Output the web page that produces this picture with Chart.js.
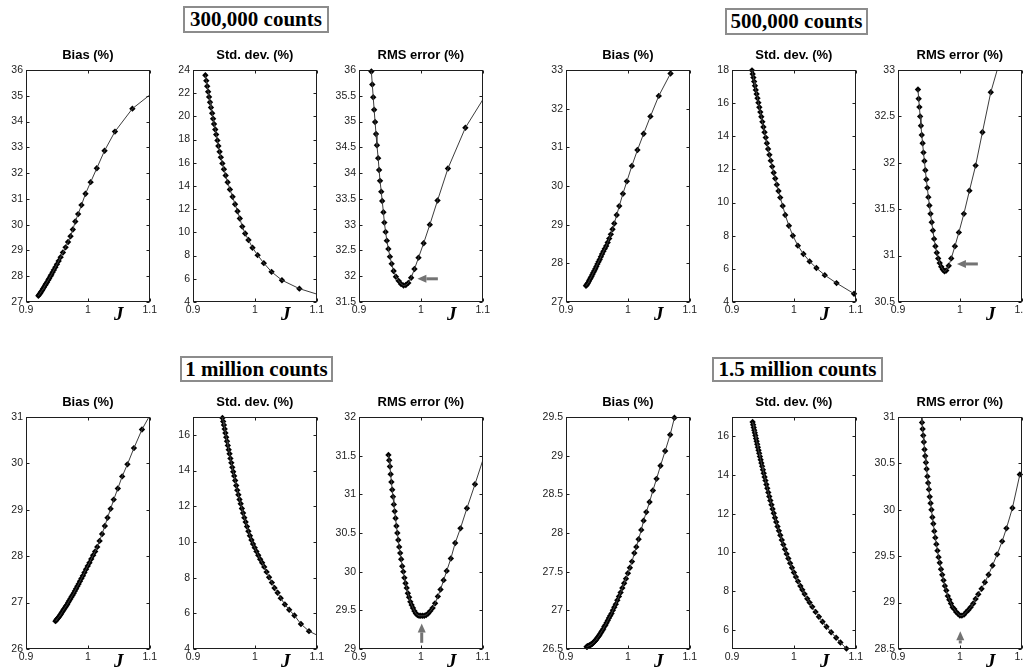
<!DOCTYPE html>
<html><head><meta charset="utf-8">
<script src="https://cdn.jsdelivr.net/npm/chart.js@4.4.1/dist/chart.umd.min.js"></script>
<style>
html,body{margin:0;padding:0;background:#fff;}
body{width:1024px;height:671px;position:relative;overflow:hidden;}
canvas{position:absolute;}
.box{position:absolute;border:2px solid #8c8c8c;background:#fff;font:bold 21px "Liberation Serif","Times New Roman",serif;color:#000;text-align:center;box-sizing:border-box;white-space:nowrap;}
</style></head><body>
<div class="box" style="left:183px;top:6px;width:146px;height:27px;line-height:23px;">300,000 counts</div>
<div class="box" style="left:725px;top:8px;width:143px;height:27px;line-height:23px;">500,000 counts</div>
<div class="box" style="left:180px;top:356px;width:153px;height:26px;line-height:22px;">1 million counts</div>
<div class="box" style="left:712px;top:357px;width:171px;height:25px;line-height:21px;">1.5 million counts</div>
<script>
// ---------- data ----------
const jTicks = [0.9, 1, 1.1];

// 300,000 counts
const x300k = [0.920, 0.9215, 0.923, 0.9245, 0.926, 0.9275, 0.929, 0.931, 0.9325, 0.934,
  0.936, 0.9375, 0.9395, 0.941, 0.943, 0.945, 0.9475, 0.950, 0.9528, 0.956,
  0.9597, 0.964, 0.968, 0.972, 0.9757, 0.9797, 0.9843, 0.9897, 0.9962, 1.0045,
  1.0145, 1.027, 1.0438, 1.072, 1.117];
const bias300k = [27.24, 27.29, 27.34, 27.40, 27.45, 27.51, 27.57, 27.65, 27.71, 27.77,
  27.85, 27.91, 28.00, 28.06, 28.15, 28.24, 28.35, 28.46, 28.59, 28.74,
  28.92, 29.12, 29.33, 29.55, 29.81, 30.12, 30.41, 30.76, 31.20, 31.65,
  32.19, 32.87, 33.61, 34.50, 35.35];
const std300k = [23.55, 23.08, 22.6, 22.13, 21.68, 21.22, 20.77, 20.27, 19.8, 19.35,
  18.87, 18.43, 17.93, 17.45, 16.95, 16.47, 15.95, 15.45, 14.9, 14.32,
  13.7, 13.07, 12.43, 11.82, 11.2, 10.5, 9.9, 9.35, 8.68, 8.04,
  7.35, 6.6, 5.88, 5.15, 4.4];
const rms300k = [35.97, 35.72, 35.47, 35.23, 34.99, 34.76, 34.54, 34.29, 34.06, 33.85,
  33.64, 33.46, 33.24, 33.04, 32.86, 32.69, 32.53, 32.38, 32.24, 32.10,
  31.99, 31.91, 31.85, 31.82, 31.83, 31.87, 31.97, 32.14, 32.36, 32.64,
  33.00, 33.47, 34.09, 34.88, 35.75];

// 500,000 counts
const x500k = [0.9323, 0.9334, 0.9346, 0.9358, 0.9371, 0.9384, 0.9398, 0.9412, 0.9427, 0.9442,
  0.9458, 0.9474, 0.9491, 0.9508, 0.9526, 0.9545, 0.9564, 0.9584, 0.9605, 0.9627,
  0.965, 0.9674, 0.9699, 0.9725, 0.9752, 0.978, 0.982, 0.9861, 0.992, 0.9984,
  1.0065, 1.0155, 1.0255, 1.0365, 1.050, 1.069, 1.0973];
const bias500k = [27.42, 27.44, 27.47, 27.50, 27.54, 27.58, 27.62, 27.66, 27.71, 27.76,
  27.81, 27.86, 27.92, 27.98, 28.04, 28.10, 28.17, 28.24, 28.31, 28.38,
  28.45, 28.54, 28.64, 28.75, 28.88, 29.03, 29.25, 29.48, 29.80, 30.12,
  30.52, 30.93, 31.35, 31.80, 32.33, 32.91, 33.80];
const std500k = [17.98, 17.76, 17.54, 17.3, 17.05, 16.8, 16.55, 16.3, 16.03, 15.75,
  15.46, 15.18, 14.87, 14.56, 14.24, 13.92, 13.58, 13.23, 12.88, 12.53,
  12.17, 11.8, 11.45, 11.08, 10.7, 10.3, 9.8, 9.25, 8.6, 8.0,
  7.4, 6.9, 6.45, 6.05, 5.62, 5.14, 4.5];
const rms500k = [32.79, 32.69, 32.60, 32.50, 32.40, 32.30, 32.21, 32.11, 32.02, 31.92,
  31.82, 31.73, 31.63, 31.54, 31.45, 31.36, 31.27, 31.18, 31.10, 31.03,
  30.97, 30.92, 30.88, 30.85, 30.83, 30.84, 30.89, 30.97, 31.10, 31.25,
  31.45, 31.70, 31.97, 32.33, 32.76, 33.20, 34.10];

// 1 million counts
const x1M = [0.9476, 0.9488, 0.95, 0.9512, 0.9524, 0.9537, 0.955, 0.9563, 0.9577, 0.9591,
  0.9605, 0.962, 0.9635, 0.965, 0.9666, 0.9682, 0.9699, 0.9716, 0.9734, 0.9752,
  0.9771, 0.979, 0.981, 0.983, 0.9851, 0.9873, 0.9896, 0.992, 0.9945, 0.9971,
  0.9998, 1.0026, 1.0055, 1.0086, 1.0118, 1.0152, 1.019, 1.023, 1.0275, 1.0318,
  1.0368, 1.0418, 1.0485, 1.0555, 1.064, 1.0745, 1.0875, 1.105];
const bias1M = [26.60, 26.62, 26.64, 26.66, 26.68, 26.70, 26.73, 26.75, 26.78, 26.81,
  26.84, 26.87, 26.90, 26.93, 26.96, 27.00, 27.04, 27.08, 27.12, 27.16,
  27.20, 27.25, 27.30, 27.35, 27.40, 27.46, 27.52, 27.58, 27.65, 27.72,
  27.79, 27.86, 27.94, 28.02, 28.10, 28.20, 28.33, 28.48, 28.65, 28.83,
  29.02, 29.22, 29.46, 29.72, 29.98, 30.33, 30.73, 31.15];
const std1M = [16.95, 16.75, 16.55, 16.33, 16.1, 15.87, 15.64, 15.41, 15.17, 14.94,
  14.68, 14.43, 14.18, 13.93, 13.7, 13.44, 13.16, 12.9, 12.64, 12.38,
  12.14, 11.87, 11.62, 11.36, 11.12, 10.86, 10.6, 10.35, 10.11, 9.88,
  9.68, 9.47, 9.25, 9.03, 8.83, 8.6, 8.32, 8.02, 7.72, 7.42,
  7.15, 6.85, 6.5, 6.2, 5.88, 5.4, 5.0, 4.7];
const rms1M = [31.51, 31.44, 31.36, 31.26, 31.16, 31.06, 30.97, 30.87, 30.78, 30.69,
  30.59, 30.50, 30.41, 30.32, 30.24, 30.16, 30.07, 30.00, 29.92, 29.85,
  29.79, 29.72, 29.67, 29.61, 29.57, 29.53, 29.49, 29.46, 29.44, 29.43,
  29.43, 29.43, 29.43, 29.44, 29.46, 29.49, 29.53, 29.59, 29.68, 29.77,
  29.89, 30.01, 30.17, 30.37, 30.56, 30.82, 31.13, 31.56];

// 1.5 million counts
const x15M = [0.9333, 0.9342, 0.9351, 0.936, 0.9369, 0.9378, 0.9388, 0.9398, 0.9408, 0.9418,
  0.9429, 0.944, 0.9451, 0.9463, 0.9475, 0.9487, 0.95, 0.9513, 0.9527, 0.9541,
  0.9556, 0.9571, 0.9587, 0.9603, 0.962, 0.9638, 0.9656, 0.9675, 0.9695, 0.9715,
  0.9736, 0.9758, 0.9781, 0.9805, 0.983, 0.9856, 0.9883, 0.9911, 0.994, 0.997,
  1.0001, 1.0033, 1.0067, 1.0105, 1.0137, 1.0174, 1.0217, 1.0255, 1.0298, 1.0351,
  1.0405, 1.0464, 1.0528, 1.0603, 1.0684, 1.0753, 1.085, 1.097];
const bias15M = [26.53, 26.53, 26.535, 26.54, 26.54, 26.545, 26.55, 26.555, 26.56, 26.565,
  26.57, 26.58, 26.59, 26.60, 26.61, 26.62, 26.635, 26.65, 26.665, 26.68,
  26.70, 26.72, 26.74, 26.76, 26.79, 26.81, 26.84, 26.87, 26.90, 26.93,
  26.96, 27.00, 27.04, 27.08, 27.13, 27.18, 27.23, 27.29, 27.35, 27.41,
  27.48, 27.55, 27.63, 27.74, 27.82, 27.92, 28.04, 28.16, 28.27, 28.40,
  28.55, 28.70, 28.87, 29.06, 29.27, 29.49, 29.80, 30.15];
const std15M = [16.74, 16.6, 16.46, 16.32, 16.18, 16.04, 15.89, 15.74, 15.59, 15.44,
  15.28, 15.12, 14.96, 14.79, 14.62, 14.45, 14.27, 14.09, 13.9, 13.71,
  13.51, 13.31, 13.1, 12.89, 12.68, 12.46, 12.24, 12.02, 11.79, 11.57,
  11.34, 11.11, 10.88, 10.64, 10.4, 10.16, 9.92, 9.68, 9.44, 9.2,
  8.96, 8.73, 8.5, 8.26, 8.06, 7.84, 7.6, 7.4, 7.18, 6.92,
  6.67, 6.41, 6.15, 5.87, 5.58, 5.34, 5.02, 4.62];
const rms15M = [31.37, 31.30, 31.22, 31.16, 31.08, 31.01, 30.94, 30.87, 30.80, 30.73,
  30.65, 30.58, 30.51, 30.44, 30.36, 30.29, 30.22, 30.14, 30.07, 30.00,
  29.92, 29.85, 29.77, 29.70, 29.63, 29.56, 29.49, 29.43, 29.36, 29.30,
  29.24, 29.18, 29.13, 29.07, 29.03, 28.99, 28.95, 28.93, 28.90, 28.88,
  28.86, 28.86, 28.87, 28.90, 28.92, 28.95, 28.99, 29.04, 29.09, 29.15,
  29.22, 29.30, 29.40, 29.52, 29.66, 29.80, 30.02, 30.38];

// y-axis ranges and tick labels
const biasRange300k = [27, 36], biasTicks300k = [27, 28, 29, 30, 31, 32, 33, 34, 35, 36];
const stdRange300k = [4, 24], stdTicks300k = [4, 6, 8, 10, 12, 14, 16, 18, 20, 22, 24];
const rmsRange300k = [31.5, 36], rmsTicks300k = [31.5, 32, 32.5, 33, 33.5, 34, 34.5, 35, 35.5, 36];
const biasRange500k = [27, 33], biasTicks500k = [27, 28, 29, 30, 31, 32, 33];
const stdRange500k = [4, 18], stdTicks500k = [4, 6, 8, 10, 12, 14, 16, 18];
const rmsRange500k = [30.5, 33], rmsTicks500k = [30.5, 31, 31.5, 32, 32.5, 33];
const biasRange1M = [26, 31], biasTicks1M = [26, 27, 28, 29, 30, 31];
const stdRange1M = [4, 17], stdTicks1M = [4, 6, 8, 10, 12, 14, 16];
const rmsRange1M = [29, 32], rmsTicks1M = [29, 29.5, 30, 30.5, 31, 31.5, 32];
const biasRange15M = [26.5, 29.5], biasTicks15M = [26.5, 27, 27.5, 28, 28.5, 29, 29.5];
const stdRange15M = [5, 17], stdTicks15M = [6, 8, 10, 12, 14, 16];
const rmsRange15M = [28.5, 31], rmsTicks15M = [28.5, 29, 29.5, 30, 30.5, 31];

// minimum markers (arrow tail -> tip, in data units)
const arrow300k = [[1.0275, 31.95], [0.9944, 31.95]];
const arrow500k = [[1.0291, 30.91], [0.9953, 30.91]];
const arrow1M = [[1.0014, 29.08], [1.0014, 29.33]];
const arrow15M = [[1.0007, 28.56], [1.0007, 28.69]];

// ---------- drawing ----------
const FONT = '"Liberation Sans", Arial, sans-serif';
const fmt = v => String(+(+v).toFixed(2));

const matlabPlugin = {
  id: 'matlab',
  afterDatasetsDraw(chart, args, opts) {
    const {ctx, chartArea: a} = chart;
    const xs = chart.scales.x, ys = chart.scales.y;
    ctx.save();
    const L = Math.round(a.left) + 0.5, R = Math.round(a.right) - 0.5;
    const T = Math.round(a.top) + 0.5, B = Math.round(a.bottom) - 0.5;
    ctx.strokeStyle = '#1e1e1e';
    ctx.lineWidth = 1;
    ctx.strokeRect(L, T, R - L, B - T);
    ctx.beginPath();
    const tl = 3;
    xs.ticks.forEach(t => {
      const px = Math.round(xs.getPixelForValue(t.value)) + 0.5;
      ctx.moveTo(px, B); ctx.lineTo(px, B - tl);
      ctx.moveTo(px, T); ctx.lineTo(px, T + tl);
    });
    ys.ticks.forEach(t => {
      const py = Math.round(ys.getPixelForValue(t.value)) + 0.5;
      ctx.moveTo(L, py); ctx.lineTo(L + tl, py);
      ctx.moveTo(R, py); ctx.lineTo(R - tl, py);
    });
    ctx.stroke();
    // axis symbol J
    ctx.font = 'italic bold 19px "Liberation Serif", "Times New Roman", serif';
    ctx.fillStyle = '#000';
    ctx.textAlign = 'center';
    ctx.textBaseline = 'alphabetic';
    ctx.fillText('J', xs.getPixelForValue(1.05), a.bottom + 18);
    // arrow
    if (opts && opts.arrow) {
      const [from, to] = opts.arrow;
      const x1 = xs.getPixelForValue(from[0]), y1 = ys.getPixelForValue(from[1]);
      const x2 = xs.getPixelForValue(to[0]), y2 = ys.getPixelForValue(to[1]);
      const ang = Math.atan2(y2 - y1, x2 - x1);
      const hl = 9, hw = 4;
      const bx = x2 - hl * Math.cos(ang), by = y2 - hl * Math.sin(ang);
      ctx.strokeStyle = '#737373';
      ctx.fillStyle = '#737373';
      ctx.lineWidth = 3;
      ctx.beginPath(); ctx.moveTo(x1, y1); ctx.lineTo(bx, by); ctx.stroke();
      ctx.beginPath();
      ctx.moveTo(x2, y2);
      ctx.lineTo(bx + hw * Math.sin(ang), by - hw * Math.cos(ang));
      ctx.lineTo(bx - hw * Math.sin(ang), by + hw * Math.cos(ang));
      ctx.closePath(); ctx.fill();
    }
    ctx.restore();
  }
};

const FW = 125, FH = 232, YW = 34, TOPH = 30, XH = 26, PADR = 8;
const panels = [
  {fx: 26,  fy: 70,  title: 'Bias (%)',      xv: x300k, yv: bias300k, range: biasRange300k, ticks: biasTicks300k},
  {fx: 193, fy: 70,  title: 'Std. dev. (%)', xv: x300k, yv: std300k,  range: stdRange300k,  ticks: stdTicks300k},
  {fx: 359, fy: 70,  title: 'RMS error (%)', xv: x300k, yv: rms300k,  range: rmsRange300k,  ticks: rmsTicks300k, arrow: arrow300k},
  {fx: 566, fy: 70,  title: 'Bias (%)',      xv: x500k, yv: bias500k, range: biasRange500k, ticks: biasTicks500k},
  {fx: 732, fy: 70,  title: 'Std. dev. (%)', xv: x500k, yv: std500k,  range: stdRange500k,  ticks: stdTicks500k},
  {fx: 898, fy: 70,  title: 'RMS error (%)', xv: x500k, yv: rms500k,  range: rmsRange500k,  ticks: rmsTicks500k, arrow: arrow500k},
  {fx: 26,  fy: 417, title: 'Bias (%)',      xv: x1M,   yv: bias1M,   range: biasRange1M,   ticks: biasTicks1M},
  {fx: 193, fy: 417, title: 'Std. dev. (%)', xv: x1M,   yv: std1M,    range: stdRange1M,    ticks: stdTicks1M},
  {fx: 359, fy: 417, title: 'RMS error (%)', xv: x1M,   yv: rms1M,    range: rmsRange1M,    ticks: rmsTicks1M, arrow: arrow1M},
  {fx: 566, fy: 417, title: 'Bias (%)',      xv: x15M,  yv: bias15M,  range: biasRange15M,  ticks: biasTicks15M},
  {fx: 732, fy: 417, title: 'Std. dev. (%)', xv: x15M,  yv: std15M,   range: stdRange15M,   ticks: stdTicks15M},
  {fx: 898, fy: 417, title: 'RMS error (%)', xv: x15M,  yv: rms15M,   range: rmsRange15M,   ticks: rmsTicks15M, arrow: arrow15M}
];

panels.forEach(p => {
  const cv = document.createElement('canvas');
  cv.width = YW + FW + PADR;
  cv.height = TOPH + FH + XH;
  cv.style.left = (p.fx - YW) + 'px';
  cv.style.top = (p.fy - TOPH) + 'px';
  document.body.appendChild(cv);
  const pts = p.xv.map((x, i) => ({x: x, y: p.yv[i]}));
  const [ymin, ymax] = p.range;
  const inside = c => {
    const r = c.raw;
    if (!r) return 0;
    return (r.x >= 0.9 - 1e-9 && r.x <= 1.1 + 1e-9 && r.y >= ymin - 1e-9 && r.y <= ymax + 1e-9) ? 3.2 : 0;
  };
  new Chart(cv, {
    type: 'scatter',
    data: {datasets: [
      {data: pts, showLine: true, pointRadius: 0, borderColor: '#3c3c3c', borderWidth: 1, clip: 0},
      {data: pts, showLine: false, pointStyle: 'rectRot', pointRadius: inside, pointHoverRadius: inside,
       backgroundColor: '#000', borderColor: '#000', borderWidth: 0, clip: false}
    ]},
    options: {
      responsive: false, animation: false, devicePixelRatio: 1, events: [],
      layout: {padding: {left: 0, right: PADR, top: 0, bottom: 0}},
      plugins: {
        legend: {display: false}, tooltip: {enabled: false},
        title: {display: true, fullSize: false, text: p.title, color: '#000',
          font: {family: FONT, size: 13, weight: 'bold', lineHeight: 1.2},
          padding: {top: 7.7, bottom: 6.7}},
        matlab: {arrow: p.arrow || null}
      },
      scales: {
        x: {type: 'linear', min: 0.9, max: 1.1,
          afterBuildTicks: s => { s.ticks = jTicks.map(v => ({value: v})); },
          afterFit: s => { s.height = XH; },
          grid: {display: false, drawTicks: false}, border: {display: false},
          ticks: {font: {family: FONT, size: 10.5}, color: '#222', padding: 2, maxRotation: 0, autoSkip: false, callback: v => fmt(v)}},
        y: {type: 'linear', min: ymin, max: ymax,
          afterBuildTicks: s => { s.ticks = p.ticks.map(v => ({value: v})); },
          afterFit: s => { s.width = YW; },
          grid: {display: false, drawTicks: false}, border: {display: false},
          ticks: {font: {family: FONT, size: 10.5}, color: '#222', padding: 3, autoSkip: false, callback: v => fmt(v)}}
      }
    },
    plugins: [matlabPlugin]
  });
});
</script>
</body></html>
